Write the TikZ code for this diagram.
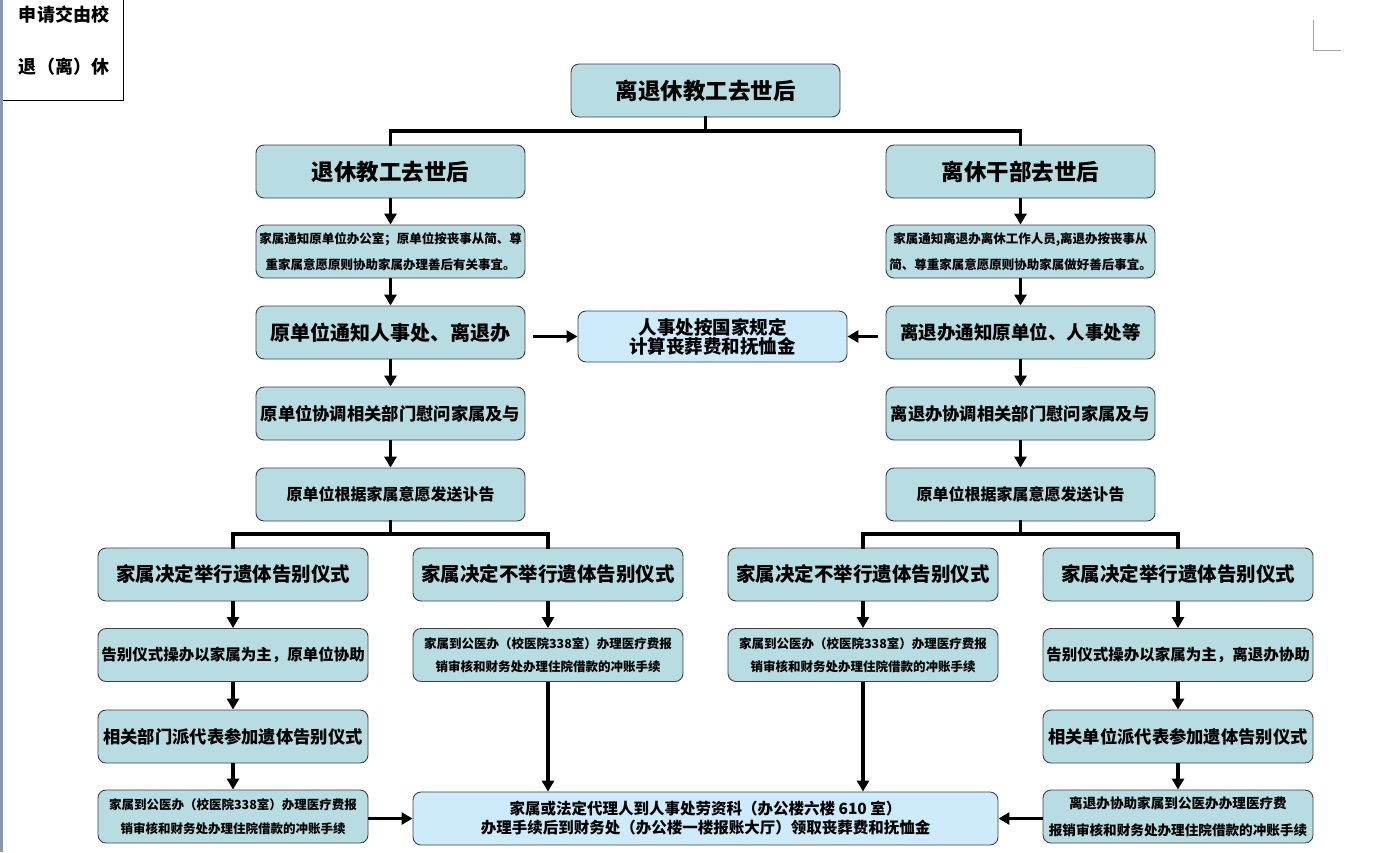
\documentclass[tikz,border=0pt]{standalone}
\usepackage{fontspec}
\setmainfont{Noto Sans CJK SC}
\usetikzlibrary{arrows.meta}
\definecolor{boxteal}{HTML}{B7DDE2}
\definecolor{boxblue}{HTML}{CDEBFA}
\definecolor{stripcol}{HTML}{8798B6}
\newcommand{\fs}[2]{\fontsize{#1}{#2}\selectfont\bfseries}
\begin{document}
\begin{tikzpicture}[x=1pt,y=-1pt,
  box/.style={draw=black!75,line width=0.9pt,rounded corners=8pt,fill=boxteal,
    inner sep=0pt,align=center,minimum width=269pt,minimum height=53pt},
  wide/.style={minimum width=270pt},
  cbox/.style={box,fill=boxblue},
  arr/.style={line width=3.2pt,-{Triangle[length=11pt,width=12pt]}},
  tree/.style={line width=3.8pt,line cap=rect}]
\useasboundingbox (0,0) rectangle (1400,852);
\fill[white] (0,0) rectangle (1400,852);
% left strip and top-left note
\fill[stripcol] (0,0) rectangle (3,852);
\draw[line width=1pt] (123,0) -- (123,100) -- (3,100);
\node[font=\fs{18}{18}] (n1) at (64,15) {申请交由校};
\node[font=\fs{18}{18}] (n2) at (64,67) {退（离）休};
% crop mark
\draw[gray!70,line width=0.8pt] (1313,20) -- (1313,50) -- (1341,50);

% nodes
\node[box,font=\fs{22.5}{22}] (top) at (705.5,90.5) {离退休教工去世后};
\node[box,font=\fs{22.5}{22}] (L0) at (390.5,171.5) {退休教工去世后};
\node[box,font=\fs{22.5}{22}] (R0) at (1020.5,171.5) {离休干部去世后};
\node[box,font=\fs{12.5}{26}] (L1) at (390.5,251.5) {家属通知原单位办公室；原单位按丧事从简、尊\\重家属意愿原则协助家属办理善后有关事宜。};
\node[box,font=\fs{12.5}{26}] (R1) at (1020.5,251.5) {家属通知离退办离休工作人员,离退办按丧事从\\简、尊重家属意愿原则协助家属做好善后事宜。};
\node[box,font=\fs{20}{20}] (L2) at (390.5,332.5) {原单位通知人事处、离退办};
\node[box,font=\fs{18.5}{18.5}] (R2) at (1020.5,332.5) {离退办通知原单位、人事处等};
\node[cbox,minimum height=51pt,font=\fs{18.5}{19}] (C) at (712.5,336.5) {人事处按国家规定\\计算丧葬费和抚恤金};
\node[box,font=\fs{17.3}{17.3}] (L3) at (390.5,413.5) {原单位协调相关部门慰问家属及与};
\node[box,font=\fs{17.3}{17.3}] (R3) at (1020.5,413.5) {离退办协调相关部门慰问家属及与};
\node[box,font=\fs{16}{16}] (L4) at (390.5,494.5) {原单位根据家属意愿发送讣告};
\node[box,font=\fs{16}{16}] (R4) at (1020.5,494.5) {原单位根据家属意愿发送讣告};

\node[box,wide,font=\fs{19.5}{19.5}] (A1) at (233,574.5) {家属决定举行遗体告别仪式};
\node[box,wide,font=\fs{19.5}{19.5}] (A2) at (548,574.5) {家属决定不举行遗体告别仪式};
\node[box,wide,font=\fs{19.5}{19.5}] (A3) at (863,574.5) {家属决定不举行遗体告别仪式};
\node[box,wide,font=\fs{19.5}{19.5}] (A4) at (1178,574.5) {家属决定举行遗体告别仪式};

\node[box,wide,font=\fs{15.5}{15.5}] (B1) at (233,655) {告别仪式操办以家属为主，原单位协助};
\node[box,wide,font=\fs{12.5}{23}] (B2) at (548,655) {家属到公医办（校医院338室）办理医疗费报\\销审核和财务处办理住院借款的冲账手续};
\node[box,wide,font=\fs{12.5}{23}] (B3) at (863,655) {家属到公医办（校医院338室）办理医疗费报\\销审核和财务处办理住院借款的冲账手续};
\node[box,wide,font=\fs{15.5}{15.5}] (B4) at (1178,655) {告别仪式操办以家属为主，离退办协助};

\node[box,wide,font=\fs{17.3}{17.3}] (C1) at (233,736.5) {相关部门派代表参加遗体告别仪式};
\node[box,wide,font=\fs{17.3}{17.3}] (C4) at (1178,736.5) {相关单位派代表参加遗体告别仪式};

\node[box,wide,font=\fs{12.5}{24}] (D1) at (233,816.5) {家属到公医办（校医院338室）办理医疗费报\\销审核和财务处办理住院借款的冲账手续};
\node[box,wide,font=\fs{13.6}{27}] (D4) at (1178,816.5) {离退办协助家属到公医办办理医疗费\\报销审核和财务处办理住院借款的冲账手续};

\node[cbox,minimum width=585pt,font=\fs{15.5}{19}] (E) at (705.5,818.5) {家属或法定代理人到人事处劳资科（办公楼六楼 610 室）\\办理手续后到财务处（办公楼一楼报账大厅）领取丧葬费和抚恤金};

% trees
\coordinate (t1) at (705.5,131);
\draw[tree] (top.south) -- (t1);
\draw[tree] (L0.north) |- (t1) -| (R0.north);
\coordinate (t2) at (390.5,534);
\draw[tree] (L4.south) -- (t2);
\draw[tree] (A1.north) |- (t2) -| (A2.north);
\coordinate (t3) at (1020.5,534);
\draw[tree] (R4.south) -- (t3);
\draw[tree] (A3.north) |- (t3) -| (A4.north);

% vertical arrows
\draw[arr] (L0) -- (L1);
\draw[arr] (L1) -- (L2);
\draw[arr] (L2) -- (L3);
\draw[arr] (L3) -- (L4);
\draw[arr] (R0) -- (R1);
\draw[arr] (R1) -- (R2);
\draw[arr] (R2) -- (R3);
\draw[arr] (R3) -- (R4);
\draw[arr] (A1) -- (B1);
\draw[arr] (B1) -- (C1);
\draw[arr] (C1) -- (D1);
\draw[arr] (A4) -- (B4);
\draw[arr] (B4) -- (C4);
\draw[arr] (C4) -- (D4);
\draw[arr] (A2) -- (B2);
\draw[arr] (A3) -- (B3);
\draw[arr] (B2.south) -- (B2.south |- E.north);
\draw[arr] (B3.south) -- (B3.south |- E.north);

% horizontal arrows
\draw[arr] ([xshift=8pt]L2.east |- C.west) -- (C.west);
\draw[arr] ([xshift=-8pt]R2.west |- C.east) -- (C.east);
\draw[arr] (D1.east |- E.west) -- (E.west);
\draw[arr] (D4.west |- E.east) -- (E.east);
\end{tikzpicture}
\end{document}
